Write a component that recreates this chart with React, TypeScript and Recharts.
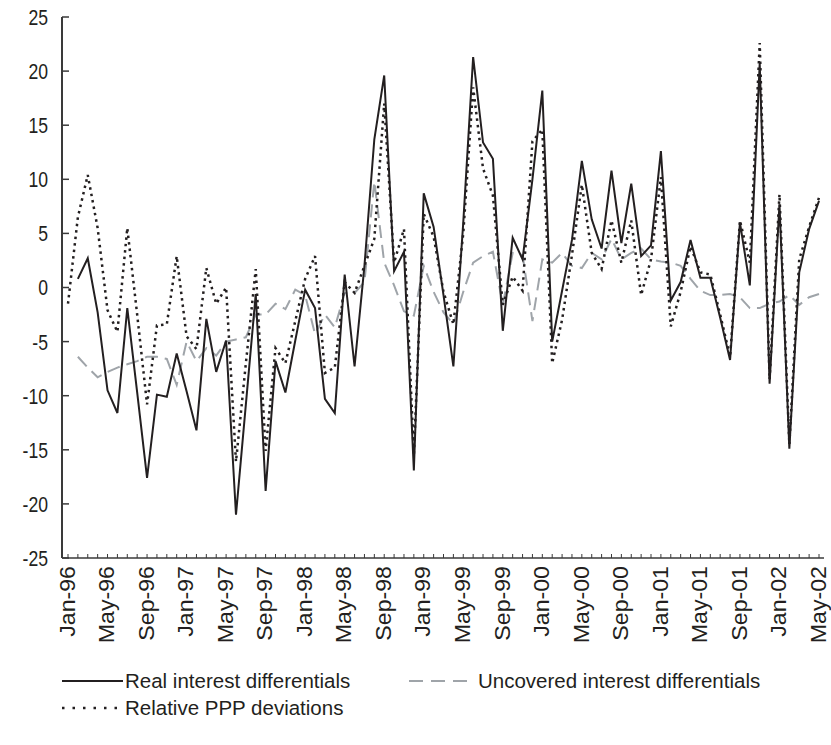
import React from "react";
import { LineChart, Line, XAxis, YAxis } from "recharts";

const months = [
  "Jan-96","Feb-96","Mar-96","Apr-96","May-96","Jun-96","Jul-96","Aug-96","Sep-96","Oct-96","Nov-96","Dec-96",
  "Jan-97","Feb-97","Mar-97","Apr-97","May-97","Jun-97","Jul-97","Aug-97","Sep-97","Oct-97","Nov-97","Dec-97",
  "Jan-98","Feb-98","Mar-98","Apr-98","May-98","Jun-98","Jul-98","Aug-98","Sep-98","Oct-98","Nov-98","Dec-98",
  "Jan-99","Feb-99","Mar-99","Apr-99","May-99","Jun-99","Jul-99","Aug-99","Sep-99","Oct-99","Nov-99","Dec-99",
  "Jan-00","Feb-00","Mar-00","Apr-00","May-00","Jun-00","Jul-00","Aug-00","Sep-00","Oct-00","Nov-00","Dec-00",
  "Jan-01","Feb-01","Mar-01","Apr-01","May-01","Jun-01","Jul-01","Aug-01","Sep-01","Oct-01","Nov-01","Dec-01",
  "Jan-02","Feb-02","Mar-02","Apr-02","May-02",
];

const realInterest = [
  null, 0.8, 2.7, -2.3, -9.5, -11.6, -1.9, -9.7, -17.6, -9.9, -10.1, -6.1,
  -9.6, -13.2, -2.9, -7.8, -4.9, -21.0, -10.8, -0.6, -18.8, -6.8, -9.7, -4.9,
  -0.2, -1.9, -10.3, -11.6, 1.2, -7.3, 2.0, 13.7, 19.6, 1.5, 3.3, -16.9,
  8.7, 5.6, -0.7, -7.3, 6.0, 21.3, 13.4, 11.9, -4.0, 4.6, 2.6, 10.0,
  18.2, -5.0, -0.3, 4.4, 11.7, 6.3, 3.6, 10.8, 4.1, 9.6, 2.9, 3.9,
  12.6, -1.2, 0.5, 4.4, 0.9, 0.9, -2.8, -6.7, 6.0, 0.2, 20.7, -8.9,
  7.7, -14.9, 1.4, 5.4, 8.0,
];

const uncoveredInterest = [
  null, -6.4, -7.4, -8.3, -7.8, -7.4, -7.1, -6.8, -6.4, -6.4, -6.6, -9.0,
  -5.0, -6.8, -5.6, -6.3, -5.0, -4.8, -4.6, -2.5, -2.5, -1.5, -2.0, -0.2,
  -0.7, -4.3, -2.5, -3.7, -0.5, -0.5, 0.5, 9.8, 2.3, 0.2, -2.2, -2.6,
  2.0, -0.4, -2.3, -3.4, -0.4, 2.3, 2.9, 3.3, -1.6, 3.2, 3.0, -3.1,
  2.6, 2.3, 3.2, 2.0, 1.8, 3.2, 2.6, 4.5, 2.6, 3.2, 3.6, 2.6,
  2.4, 2.3, 2.0, 0.8, -0.3, -0.7, -0.7, -0.6, -0.9, -1.9, -1.9, -1.5,
  -1.3, -0.7, -1.6, -0.9, -0.6,
];

const pppDeviations = [
  -1.5, 6.5, 10.4, 5.5, -2.1, -4.1, 5.5, -2.5, -10.8, -3.5, -3.4, 2.9,
  -4.5, -5.7, 1.8, -1.5, 0.0, -16.1, -7.0, 1.7, -15.1, -5.6, -7.0, -3.1,
  0.8, 2.9, -7.9, -7.4, 0.5, -0.5, 2.0, 4.5, 17.0, 2.3, 5.4, -15.5,
  6.8, 4.7, -0.4, -3.4, 5.0, 18.5, 11.0, 8.5, -1.6, 1.0, -0.3, 13.5,
  14.6, -7.0, -3.0, 3.0, 9.5, 3.2, 1.7, 6.2, 2.3, 6.2, -0.7, 2.6,
  10.2, -3.6, -0.4, 3.8, 1.4, 1.2, -2.5, -6.4, 6.2, 2.3, 22.6, -8.5,
  8.6, -14.5, 2.6, 5.6, 8.3,
];

const yTicks = [-25, -20, -15, -10, -5, 0, 5, 10, 15, 20, 25];

const data = months.map((m, i) => ({
  month: m,
  real: realInterest[i],
  uip: uncoveredInterest[i],
  ppp: pppDeviations[i],
}));

const FONT = "'Liberation Sans', Arial, sans-serif";
const INK = "#231f20";
const GRAY = "#9fa4a9";
const AXIS = "#3a3a3a";

const XTick = (props: any) => {
  const { x, y, payload } = props;
  const idx = payload.index;
  return (
    <g>
      <line x1={x} y1={y} x2={x} y2={y - 4} stroke={AXIS} strokeWidth={1} />
      {idx % 4 === 0 && (
        <text
          transform={`translate(${x}, ${y + 8}) rotate(-90) scale(1.03, 1)`}
          x={0}
          y={0}
          textAnchor="end"
          dy="0.3em"
          fontSize={22.5}
          fontFamily={FONT}
          fill={INK}
        >
          {payload.value}
        </text>
      )}
    </g>
  );
};

const YTick = (props: any) => {
  const { x, y, payload } = props;
  return (
    <g>
      <line x1={x} y1={y} x2={x + 7} y2={y} stroke={AXIS} strokeWidth={1.5} />
      <text
        transform={`translate(${x - 14}, ${y}) scale(0.8, 1)`}
        x={0}
        y={0}
        dy="0.36em"
        textAnchor="end"
        fontSize={22}
        fontFamily={FONT}
        fill={INK}
      >
        {payload.value}
      </text>
    </g>
  );
};

const legendText: React.CSSProperties = {
  fontFamily: FONT,
  fontSize: 20.5,
  color: INK,
  position: "absolute",
  whiteSpace: "nowrap",
  lineHeight: "24px",
};

export default function App() {
  return (
    <div style={{ position: "absolute", left: 0, top: 0, width: 831, height: 745, background: "#fff" }}>
      <LineChart
        width={831}
        height={745}
        data={data}
        margin={{ top: 17, right: 7, bottom: 0, left: 0 }}
      >
        <XAxis
          dataKey="month"
          interval={0}
          height={187}
          tickLine={false}
          tickSize={0}
          tickMargin={0}
          axisLine={{ stroke: AXIS, strokeWidth: 1.5 }}
          tick={<XTick />}
          padding={{ left: 6, right: 5 }}
        />
        <XAxis
          xAxisId="top"
          dataKey="month"
          orientation="top"
          height={0}
          tick={false}
          tickLine={false}
          axisLine={{ stroke: AXIS, strokeWidth: 1.5 }}
        />
        <YAxis
          domain={[-25, 25]}
          ticks={yTicks}
          width={62}
          tickLine={false}
          tickSize={0}
          tickMargin={0}
          axisLine={{ stroke: AXIS, strokeWidth: 2 }}
          tick={<YTick />}
          interval={0}
        />
        <YAxis
          yAxisId="right"
          orientation="right"
          domain={[-25, 25]}
          width={0}
          tick={false}
          tickLine={false}
          axisLine={{ stroke: AXIS, strokeWidth: 1.5 }}
        />
        <Line
          dataKey="uip"
          stroke={GRAY}
          strokeWidth={2}
          strokeDasharray="13 7"
          dot={false}
          activeDot={false}
          isAnimationActive={false}
        />
        <Line
          dataKey="ppp"
          stroke={INK}
          strokeWidth={2.5}
          strokeDasharray="2.5 4"
          dot={false}
          activeDot={false}
          isAnimationActive={false}
        />
        <Line
          dataKey="real"
          stroke={INK}
          strokeWidth={2}
          dot={false}
          activeDot={false}
          isAnimationActive={false}
        />
      </LineChart>
      <svg style={{ position: "absolute", left: 0, top: 0 }} width={831} height={745} pointerEvents="none">
        <line x1={62} y1={681} x2={123} y2={681} stroke={INK} strokeWidth={2} />
        <line x1={409} y1={681} x2={474} y2={681} stroke={GRAY} strokeWidth={2} strokeDasharray="14 8" />
        <line x1={62} y1={708} x2={123} y2={708} stroke={INK} strokeWidth={2.5} strokeDasharray="2.5 8" />
      </svg>
      <div style={{ ...legendText, left: 125, top: 669 }}>Real interest differentials</div>
      <div style={{ ...legendText, left: 478, top: 669 }}>Uncovered interest differentials</div>
      <div style={{ ...legendText, left: 125, top: 696 }}>Relative PPP deviations</div>
    </div>
  );
}
